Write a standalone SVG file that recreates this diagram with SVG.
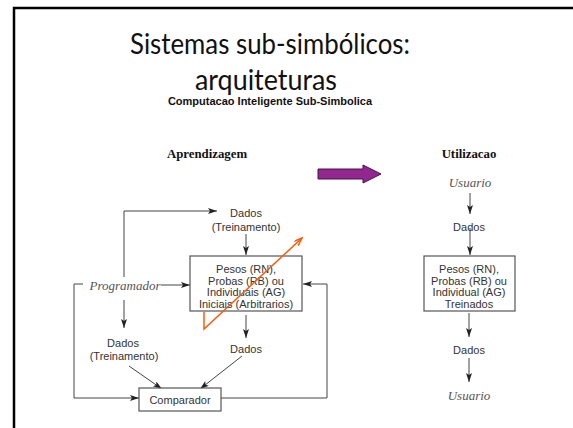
<svg xmlns="http://www.w3.org/2000/svg" width="573" height="428" viewBox="0 0 573 428">
<style>
.t{font-family:"Liberation Sans",Arial,sans-serif;font-size:11px;fill:#333;text-anchor:middle}
.h{font-family:"Liberation Serif","Times New Roman",serif;font-size:12.8px;font-weight:bold;fill:#111;text-anchor:middle}
.i{font-family:"Liberation Serif","Times New Roman",serif;font-size:13px;font-style:italic;fill:#555;text-anchor:middle}
.c{fill:none;stroke:#444;stroke-width:1}
.box{fill:#fff;stroke:#555;stroke-width:1.2}
</style>
<defs>
<marker id="ah" markerUnits="userSpaceOnUse" markerWidth="10" markerHeight="8" refX="9" refY="3" orient="auto">
<path d="M0,0 L9,3 L0,6 L2,3 z" fill="#222"/>
</marker>
<marker id="ao" markerUnits="userSpaceOnUse" markerWidth="10" markerHeight="8" refX="8" refY="3" orient="auto">
<path d="M0,0 L8,3 L0,6" fill="none" stroke="#ff5a0a" stroke-width="1.5"/>
</marker>
</defs>
<rect width="573" height="428" fill="#fff"/>
<path d="M14,440 V8 H580" fill="none" stroke="#000" stroke-width="2.5"/>
<g id="title">
<text x="270" y="54" font-family="Lato,'Open Sans',sans-serif" font-size="28" text-anchor="middle" fill="#111" textLength="280" lengthAdjust="spacingAndGlyphs">Sistemas sub-simbólicos:</text>
<text x="266" y="90" font-family="Lato,'Open Sans',sans-serif" font-size="28" text-anchor="middle" fill="#111" textLength="142" lengthAdjust="spacingAndGlyphs">arquiteturas</text>
<text x="270" y="105" font-family="'Liberation Sans',Arial,sans-serif" font-size="11" font-weight="bold" text-anchor="middle" fill="#111">Computacao Inteligente Sub-Simbolica</text>
</g>
<g id="aprendizagem"><text class="h" x="207" y="158">Aprendizagem</text></g>
<g id="utilizacao"><text class="h" x="469" y="158">Utilizacao</text></g>
<g id="transicao">
<path d="M318,169 H363 V165 L381,174 L363,183 V179 H318 Z" fill="#92278f" stroke="#4a1048" stroke-width="1"/>
</g>
<g id="connectors">
<path class="c" d="M124,277 V211 H217" marker-end="url(#ah)"/>
<path class="c" d="M246,234 V255" marker-end="url(#ah)"/>
<path class="c" d="M161,285 H190" marker-end="url(#ah)"/>
<path class="c" d="M83,284 H74 V398 H139" marker-end="url(#ah)"/>
<path class="c" d="M124,300 V328" marker-end="url(#ah)"/>
<path class="c" d="M129,366 L162,389" marker-end="url(#ah)"/>
<path class="c" d="M246,315 V338" marker-end="url(#ah)"/>
<path class="c" d="M242,356 L200,389" marker-end="url(#ah)"/>
<path class="c" d="M221,398 H327 V284 H303" marker-end="url(#ah)"/>
<path class="c" d="M470,193 V214" marker-end="url(#ah)"/>
<path class="c" d="M470,228 V255" marker-end="url(#ah)"/>
<path class="c" d="M469,313 V337" marker-end="url(#ah)"/>
<path class="c" d="M469,358 V382" marker-end="url(#ah)"/>
</g>
<g id="dados-treino-top">
<text class="t" x="246" y="217">Dados</text>
<text class="t" x="246" y="231">(Treinamento)</text>
</g>
<g id="pesos-iniciais">
<rect class="box" x="190" y="256" width="112" height="55"/>
<text class="t" x="246" y="273">Pesos (RN),</text>
<text class="t" x="246" y="284.5">Probas (RB) ou</text>
<text class="t" x="246" y="296">Individuais (AG)</text>
<text class="t" x="246" y="307.5">Iniciais (Arbitrarios)</text>
</g>
<g id="programador"><text class="i" x="125" y="290">Programador</text></g>
<g id="dados-treino-left">
<text class="t" x="123" y="347">Dados</text>
<text class="t" x="124" y="360">(Treinamento)</text>
</g>
<g id="dados-left"><text class="t" x="246" y="353">Dados</text></g>
<g id="comparador">
<rect class="box" x="139" y="388" width="82" height="23"/>
<text class="t" x="180" y="404">Comparador</text>
</g>
<g id="usuario-top"><text class="i" x="470" y="187">Usuario</text></g>
<g id="dados-right-top"><text class="t" x="469" y="231">Dados</text></g>
<g id="pesos-treinados">
<rect class="box" x="424" y="256" width="91" height="55"/>
<text class="t" x="469" y="273">Pesos (RN),</text>
<text class="t" x="469" y="284.5">Probas (RB) ou</text>
<text class="t" x="469" y="296">Individual (AG)</text>
<text class="t" x="469" y="307.5">Treinados</text>
</g>
<g id="dados-right-bottom"><text class="t" x="469" y="354">Dados</text></g>
<g id="usuario-bottom"><text class="i" x="469" y="400">Usuario</text></g>
<g id="anotacao">
<path d="M204,312 V329 L302,238" fill="none" stroke="#ff5a0a" stroke-width="1.5" marker-end="url(#ao)"/>
</g>
</svg>
